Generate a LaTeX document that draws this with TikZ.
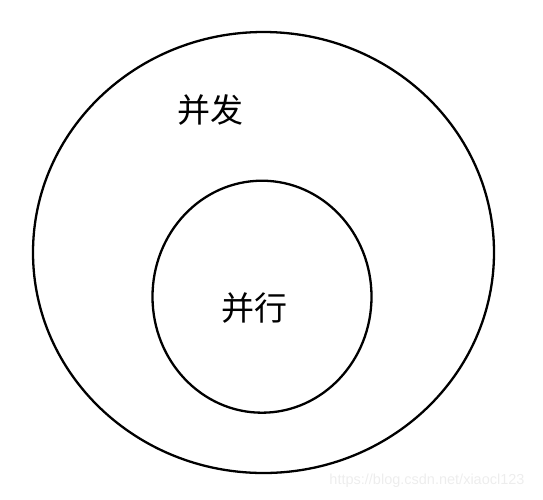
\documentclass[tikz,border=0pt]{standalone}
\usepackage{fontspec}
\newfontfamily\cjk{Noto Sans CJK SC}
\newfontfamily\wmfont{Liberation Sans}
\usetikzlibrary{shapes.geometric}

\tikzset{
    ring/.style={draw, ellipse, line width=2.3pt, inner sep=0pt},
    label/.style={font=\cjk\fontsize{33}{33}\selectfont, inner sep=0pt},
    watermark/.style={font=\wmfont\fontsize{14.5}{14.5}\selectfont, text=black!7, inner sep=0pt}
}

\begin{document}
\begin{tikzpicture}[x=1pt, y=-1pt]

\useasboundingbox (0,0) rectangle (543,499);

% the two rings
\node (outer) [ring, minimum width=461pt, minimum height=441pt] at (263.5,252.5) {};
\node (inner) [ring, minimum width=219pt, minimum height=232pt] at (262,296.7) {};

% labels
\node (concurrent) [label] at (210,110) {并发};
\node (parallel) [label] at (254,308) {并行};

\node (mark) [watermark] at (427,481) {https://blog.csdn.net/xiaocl123};

\end{tikzpicture}
\end{document}
